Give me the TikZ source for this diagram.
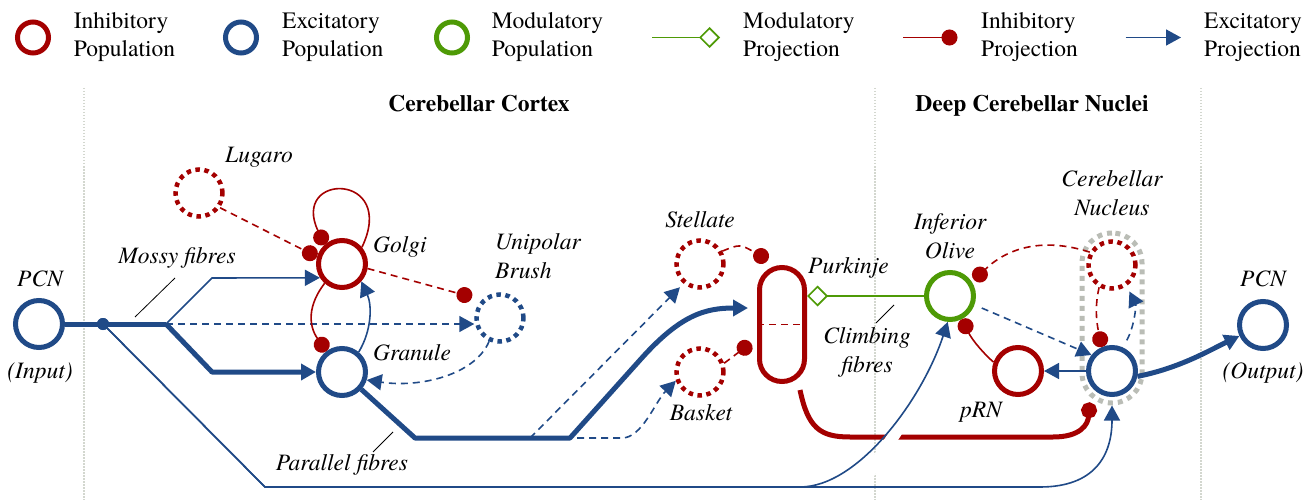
\documentclass[tikz,border=0pt]{standalone}
\usepackage{fontspec}
\setmainfont{TeX Gyre Termes}
\newfontfamily\serifx{TeX Gyre Termes}
\usetikzlibrary{arrows.meta,calc}
\definecolor{cred}{HTML}{A40000}
\definecolor{cblue}{HTML}{204A87}
\definecolor{cgreen}{HTML}{4E9A06}
\definecolor{cgray}{HTML}{BABDB6}
\definecolor{csep}{HTML}{D3D7CF}
\begin{document}
\begin{tikzpicture}[x=1pt,y=-1pt,
  pop/.style={circle, minimum size=47pt, inner sep=0pt, line width=5pt},
  popI/.style={pop, draw=cred},
  popE/.style={pop, draw=cblue},
  popM/.style={pop, draw=cgreen},
  popdot/.style={pop, line width=4.5pt, dash pattern=on 4.5pt off 4.5pt},
  popIdot/.style={popdot, draw=cred},
  popEdot/.style={popdot, draw=cblue},
  excl/.style={draw=cblue, line width=1.6pt, -{Triangle[length=15pt,width=16pt]}},
  excthick/.style={excl, line width=5pt},
  excdash/.style={excl, dash pattern=on 7pt off 5pt},
  inhl/.style={draw=cred, line width=1.6pt, -{Circle[length=16pt]}},
  inhthick/.style={inhl, line width=5pt},
  inhdash/.style={inhl, dash pattern=on 7pt off 5pt},
  modl/.style={draw=cgreen, line width=1.6pt, -{Diamond[fill=white,length=21pt,width=21pt]}},
  lbl/.style={font=\serifx\fontsize{23.5}{29}\selectfont\itshape, inner sep=0pt, align=center},
  lgd/.style={font=\serifx\fontsize{23.5}{28.5}\selectfont, inner sep=0pt, align=left, anchor=base west},
  ttl/.style={font=\serifx\fontsize{23.5}{29}\selectfont\bfseries, inner sep=0pt, anchor=base},
  sepline/.style={draw=csep, line width=1.5pt, dash pattern=on 1.5pt off 1.5pt},
  callout/.style={draw=black, line width=0.8pt}]
\useasboundingbox (0,0) rectangle (1307,500);

% separators
\coordinate (s1a) at (84,88);   \coordinate (s1b) at (84,500);
\coordinate (s2a) at (875,88);  \coordinate (s2b) at (875,500);
\coordinate (s3a) at (1201,88); \coordinate (s3b) at (1201,500);
\draw[sepline] (s1a) -- (s1b);
\draw[sepline] (s2a) -- (s2b);
\draw[sepline] (s3a) -- (s3b);

% legend
\node[popI, minimum size=31pt] (lgI) at (33,37.5) {};
\node[popE, minimum size=31pt] (lgE) at (241,37.5) {};
\node[popM, minimum size=31pt] (lgM) at (452,37.5) {};
\node[lgd] (tI) at (73.6,57) {Inhibitory\\Population};
\node[lgd] (tE) at (282,57) {Excitatory\\Population};
\node[lgd] (tM) at (491.6,57) {Modulatory\\Population};
\coordinate (lm1) at (652,37.5); \coordinate (lm2) at (720,37.5);
\coordinate (li1) at (903,37.5); \coordinate (li2) at (957.5,37.5);
\coordinate (le1) at (1125.5,37.5); \coordinate (le2) at (1181,37.5);
\draw[modl] (lm1) -- (lm2);
\draw[inhl] (li1) -- (li2);
\draw[excl] (le1) -- (le2);
\node[lgd] (tMP) at (743,57) {Modulatory\\Projection};
\node[lgd] (tIP) at (981,57) {Inhibitory\\Projection};
\node[lgd] (tEP) at (1204,57) {Excitatory\\Projection};

% titles
\node[ttl] (hCC) at (479,112) {Cerebellar Cortex};
\node[ttl] (hDCN) at (1032,112) {Deep Cerebellar Nuclei};

% populations
\node[draw=cgray, line width=5pt, dash pattern=on 5pt off 5pt, rectangle, rounded corners=30pt,
      minimum width=60pt, minimum height=170pt, inner sep=0pt] (cnbox) at (1112,318) {};
\node[popE] (pcnin) at (39,324) {};
\node[popIdot] (lugaro) at (199,193) {};
\node[popI] (golgi) at (342,264) {};
\node[popE] (granule) at (342,372) {};
\node[popEdot] (ubc) at (500,318) {};
\node[popIdot] (stellate) at (700,264) {};
\node[popIdot] (basket) at (700,372) {};
\node[draw=cred, line width=5pt, rectangle, rounded corners=22.5pt, minimum width=45pt,
      minimum height=114pt, inner sep=0pt] (purk) at (782,324.5) {};
\node[popM] (io) at (950,296) {};
\node[popI] (prn) at (1018,371) {};
\node[popE] (cn) at (1112,371) {};
\node[popIdot] (cni) at (1112,265) {};
\node[popE] (pcnout) at (1263,325) {};

% coordinates
\coordinate (m1) at (166,324);
\coordinate (pf1) at (530,438);
\coordinate (pf2) at (577,438);

% Purkinje output and bottom thin mossy line to IO and CN
\draw[inhthick] ($(purk.south)+(18,6)$) .. controls (808,428) and (820,437) .. (850,437)
   -- (1053,437) .. controls (1080,437) and (1088,425) .. ($(cn.south west)+(-4,13)$);
\draw[white, line width=12pt, shorten <=60pt, shorten >=40pt]
   (800,487) .. controls (858,487) and (922,400) .. (io.265);
\node[circle, fill=cblue, minimum size=12pt, inner sep=0pt] (jn) at (103,324) {};
\draw[excl] (jn.center) -- (265,487) -- (800,487) .. controls (858,487) and (922,400) .. (io.265);
\draw[excl] (jn.center) -- (265,487) -- (1040,487) .. controls (1095,487) and (1112,455) .. (cnbox.south);

% mossy fibres
\draw[draw=cblue, line width=5pt] (pcnin.east) -- (m1);
\node[circle, fill=cblue, minimum size=12pt, inner sep=0pt] at (jn) {};
\draw[excl] (m1) -- (212,278) -- (golgi.212);
\draw[excthick, line join=round] (m1) -- (212,372) -- (granule.west);
\draw[excdash] (m1) -- (m1 -| ubc.west);

% granular layer
\draw[inhdash] (lugaro.-35) -- (golgi.164);
\draw[inhl] (golgi.40) .. controls (398,172) and (290,172) .. (golgi.132);
\draw[inhl] (golgi.228) .. controls (308,305) and (308,325) .. (granule.127);
\draw[excl] (granule.50) .. controls (372,330) and (372,305) .. (golgi.-42);
\draw[inhdash, shorten >=10pt] (golgi.-10) -- (ubc.135);
\draw[excdash] (ubc.245) .. controls (475,375) and (420,388) .. (granule.-18);

% parallel fibres
\draw[excthick, line join=round] (granule.-42) -- (415,438) -- (570,438) -- (640,360)
   .. controls (680,315) and (705,308) .. ($(purk.west)+(-9,-16.5)$);
\draw[excdash, shorten >=5pt] (pf1) -- (stellate.230);
\draw[excdash] (pf2) -- (622,438) .. controls (642,438) and (655,402) .. (basket.200);
\draw[inhdash] (stellate.30) .. controls (740,244) .. ($(purk.north west)+(11,-5)$);
\draw[inhdash] (basket.20) -- ($(purk.west)+(-6,18.5)$);
\draw[draw=cred, line width=1.6pt, dash pattern=on 7pt off 5pt] (purk.west) -- (purk.east);

% deep nuclei
\draw[modl] (io.west) -- (io.west -| purk.east);
\draw[inhl] (prn.160) .. controls (985,355) and (972,340) .. (io.-62);
\draw[excl] (cn.west) -- (prn.east);
\draw[excdash, shorten <=8pt] (io.-20) -- (cn.142);
\draw[inhdash, shorten >=3pt] (cni.150) .. controls (1040,236) and (1005,250) .. (io.32);
\draw[excdash, shorten <=8pt, shorten >=6pt] (cn.65) .. controls (1135,325) and (1136,305) .. (cni.-55);
\draw[inhdash] (cni.240) .. controls (1095,305) and (1096,320) .. (cn.113);
\draw[excthick] (cn.-12) .. controls (1180,368) and (1210,350) .. (pcnout.205);

% callout lines
\coordinate (cm1) at (135,317); \coordinate (cm2) at (175,278);
\coordinate (cp1) at (373,452); \coordinate (cp2) at (393,432);
\coordinate (cc1) at (876,323); \coordinate (cc2) at (894,305);
\draw[callout] (cm1) -- (cm2);
\draw[callout] (cp1) -- (cp2);
\draw[callout] (cc1) -- (cc2);

% labels
\node[lbl, anchor=base] (tPCNi) at (40,286) {PCN};
\node[lbl, anchor=base] (tIn) at (40,378) {(Input)};
\node[lbl, anchor=base] (tLug) at (259,163) {Lugaro};
\node[lbl, anchor=base west] (tGol) at (373,252) {Golgi};
\node[lbl, anchor=base west] (tGra) at (373,360) {Granule};
\node[lbl, anchor=base west, align=left] (tUB) at (495,278) {Unipolar\\Brush};
\node[lbl, anchor=base] (tMF) at (177,263) {Mossy fibres};
\node[lbl, anchor=base] (tPF) at (342,470) {Parallel fibres};
\node[lbl, anchor=base] (tSt) at (700,227) {Stellate};
\node[lbl, anchor=base] (tBa) at (701,420) {Basket};
\node[lbl, anchor=base west] (tPu) at (808,273) {Purkinje};
\node[lbl, anchor=base] (tCF) at (867,372) {Climbing\\fibres};
\node[lbl, anchor=base] (tIO) at (950,258) {Inferior\\Olive};
\node[lbl, anchor=base] (tpRN) at (981,417) {pRN};
\node[lbl, anchor=base] (tCN) at (1112,215) {Cerebellar\\Nucleus};
\node[lbl, anchor=base] (tPCNo) at (1263,286) {PCN};
\node[lbl, anchor=base] (tOut) at (1263,378) {(Output)};
\end{tikzpicture}
\end{document}
